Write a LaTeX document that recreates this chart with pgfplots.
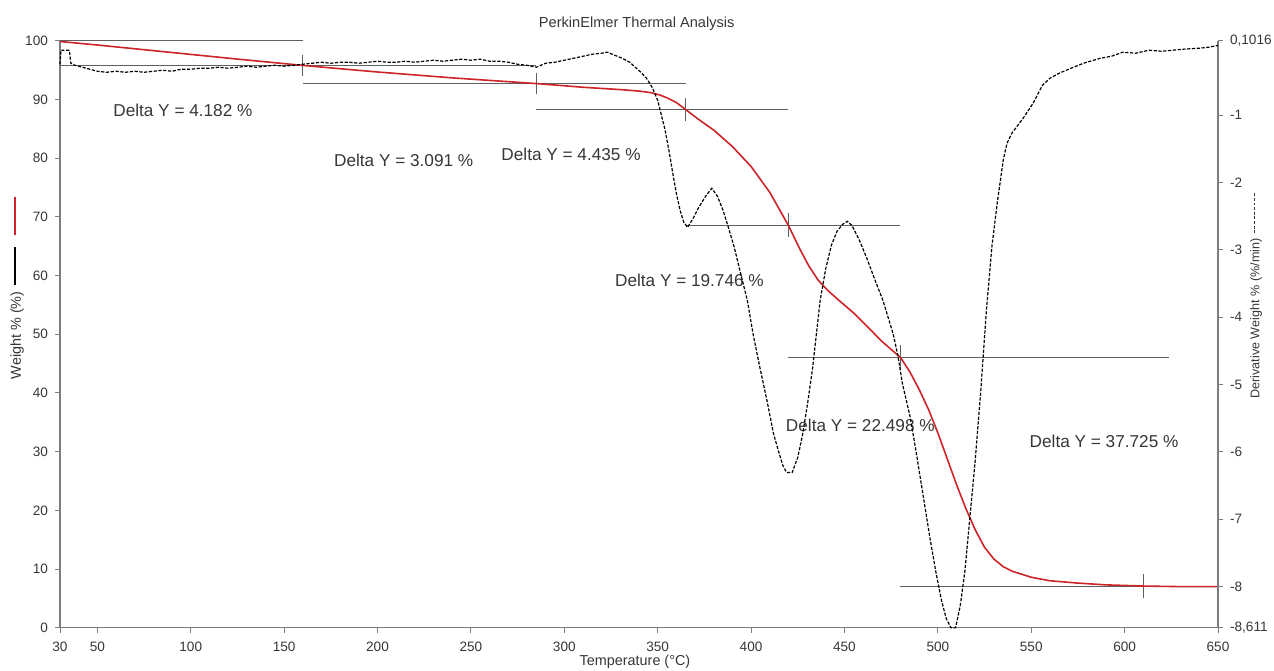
\documentclass[border=0pt]{standalone}
\usepackage{fontspec}
\setmainfont{Liberation Sans}
\usepackage{pgfplots}
\pgfplotsset{compat=1.18}

\definecolor{tgared}{RGB}{204,36,40}
\definecolor{axisgray}{RGB}{125,125,125}
\definecolor{txtgray}{RGB}{55,55,55}
\definecolor{stepgray}{RGB}{95,95,95}

% short dashed rule used as the key of the derivative curve
\newcommand\dashrule[1]{\hbox to #1{\xleaders\hbox{\rule{1.4pt}{0.5pt}\hspace{0.8pt}}\hfill}}
\newcommand\keyrule[2]{\textcolor{#1}{\raisebox{0.32em}{\rule{#2}{0.85pt}}}}

\tikzset{
  stepline/.style={stepgray, line width=0.5pt},
  delta/.style={font=\fontsize{8.6}{10}\selectfont, text=txtgray, anchor=center, inner sep=0pt},
}
\pgfplotsset{
  common/.style={
    scale only axis, width=579pt, height=293.4pt,
    xmin=30, xmax=650, clip=false,
    tick align=outside, major tick length=2.5pt,
    every tick/.style={axisgray, line width=0.5pt},
    axis line style={axisgray, line width=0.55pt},
    tick label style={font=\fontsize{6.8}{8}\selectfont, text=txtgray},
    label style={font=\fontsize{7.2}{8.5}\selectfont, text=txtgray},
    /pgf/number format/assume math mode=true,
  },
}

\begin{document}
\begin{tikzpicture}
\path[use as bounding box] (-30pt,-21.5pt) rectangle (607pt,313.85pt);

% weight loss curve (left axis)
\begin{axis}[common,
  axis y line*=left, axis x line*=bottom,
  ymin=0, ymax=100, ytick={0,10,...,100},
  xtick={30,50,100,150,200,250,300,350,400,450,500,550,600,650},
  xticklabel style={yshift=-1pt},
  xlabel={Temperature (°C)},
  xlabel style={at={(axis description cs:0.4965,-0.0588)}, anchor=center},
  ylabel={Weight \% (\%)\hspace{3.5pt}\keyrule{black}{19pt}\hspace{6pt}\keyrule{tgared}{19pt}},
  ylabel style={at={(axis description cs:-0.0371,0.579)}, anchor=center},
  title={PerkinElmer Thermal Analysis},
  title style={at={(axis description cs:0.498,1.008)}, anchor=center,
    font=\fontsize{7.3}{8.5}\selectfont, text=txtgray},
]
% step baselines
\addplot[stepline] coordinates {(30,100) (160,100)};
\addplot[stepline] coordinates {(30,95.818) (285,95.818)};
\addplot[stepline] coordinates {(160,92.727) (365,92.727)};
\addplot[stepline] coordinates {(285,88.292) (420,88.292)};
\addplot[stepline] coordinates {(365,68.546) (480,68.546)};
\addplot[stepline] coordinates {(420,46.048) (624,46.048)};
\addplot[stepline] coordinates {(480,7.1) (650,7.1)};
% step markers
\addplot[stepline] coordinates {(160,94.0) (160,97.6)};
\addplot[stepline] coordinates {(285,90.9) (285,94.5)};
\addplot[stepline] coordinates {(365,86.4) (365,90.2)};
\addplot[stepline] coordinates {(420,66.5) (420,70.6)};
\addplot[stepline] coordinates {(480,44.0) (480,48.1)};
\addplot[stepline] coordinates {(610,5.0) (610,9.2)};

\addplot[tgared, line width=0.8pt] coordinates {
(30,99.9) (50,99.3) (75,98.5) (100,97.7) (125,96.9) (160,95.82) (200,94.7)
(240,93.7) (285,92.73) (310,92.1) (330,91.7) (340,91.45) (346,91.2) (351,90.8)
(355,90.3) (360,89.5) (365,88.29) (372,86.6) (380,84.8) (390,82.0) (400,78.6)
(410,74.2) (420,68.55) (426,64.6) (431,61.6) (436,59.2) (441,57.5) (447,55.8)
(455,53.6) (462,51.4) (470,48.8) (480,46.05) (485,43.6) (490,40.6) (495,37.2)
(500,33.2) (505,28.8) (510,24.4) (515,20.3) (520,16.7) (525,13.7) (530,11.7)
(535,10.4) (540,9.6) (550,8.6) (560,8.0) (575,7.6) (590,7.3) (610,7.1)
(630,7.0) (650,7.0)};

\node[delta] at (axis cs:95.8,88.2) {Delta Y = 4.182 \%};
\node[delta] at (axis cs:214,79.7) {Delta Y = 3.091 \%};
\node[delta] at (axis cs:303.6,80.7) {Delta Y = 4.435 \%};
\node[delta] at (axis cs:367,59.2) {Delta Y = 19.746 \%};
\node[delta] at (axis cs:458.5,34.5) {Delta Y = 22.498 \%};
\node[delta] at (axis cs:589,31.7) {Delta Y = 37.725 \%};
\end{axis}

% derivative curve (right axis)
\begin{axis}[common,
  axis y line*=right, axis x line=none,
  ymin=-8.611, ymax=0.1016,
  ytick={0.1016,-1,-2,-3,-4,-5,-6,-7,-8,-8.611},
  yticklabels={{0,1016},{-1},{-2},{-3},{-4},{-5},{-6},{-7},{-8},{-8,611}},
  ylabel={Derivative Weight \% (\%/min)\hspace{2.5pt}\raisebox{0.32em}{\dashrule{21pt}}},
  ylabel style={at={(axis description cs:1.0328,0.567)}, anchor=center,
    font=\fontsize{6.3}{7.5}\selectfont},
]
\addplot[black, line width=0.6pt, dash pattern=on 1.6pt off 0.8pt] coordinates {
(30,-0.245) (30.5,-0.037) (35,-0.037) (35.8,-0.230) (38,-0.260) (42,-0.289)
(46,-0.319) (50,-0.349) (55,-0.364) (60,-0.349) (65,-0.364) (70,-0.349)
(75,-0.364) (80,-0.349) (85,-0.334) (90,-0.349) (95,-0.319) (100,-0.319)
(105,-0.304) (110,-0.304) (115,-0.289) (120,-0.304) (125,-0.289) (130,-0.274)
(135,-0.289) (140,-0.274) (145,-0.260) (150,-0.274) (155,-0.260) (160,-0.245)
(165,-0.230) (170,-0.215) (175,-0.230) (180,-0.215) (185,-0.215) (190,-0.230)
(195,-0.215) (200,-0.200) (205,-0.215) (210,-0.215) (215,-0.200) (220,-0.215)
(225,-0.200) (230,-0.185) (235,-0.200) (240,-0.185) (245,-0.170) (250,-0.185)
(255,-0.170) (260,-0.200) (265,-0.200) (270,-0.215) (275,-0.245) (280,-0.260)
(285,-0.289) (290,-0.230) (295,-0.215) (300,-0.185) (305,-0.156) (310,-0.126)
(315,-0.096) (320,-0.081) (323,-0.066) (327,-0.111) (331,-0.156) (335,-0.215)
(338,-0.289) (341,-0.364) (344,-0.453) (347,-0.586) (350,-0.780) (352,-1.003)
(354,-1.226) (356,-1.523) (358,-1.850) (360,-2.162) (362,-2.414) (364,-2.592)
(366,-2.666) (369,-2.532) (372,-2.369) (376,-2.191) (379,-2.087) (382,-2.206)
(385,-2.414) (388,-2.681) (391,-2.963) (394,-3.305) (398,-3.751) (401,-4.241)
(404.7,-4.746) (408.5,-5.237) (412,-5.728) (414.6,-5.980) (417,-6.203)
(419,-6.307) (422,-6.307) (425,-6.084) (427.7,-5.728) (430.5,-5.237)
(433,-4.746) (435,-4.241) (437,-3.751) (440,-3.276) (443,-2.934) (446,-2.726)
(449,-2.622) (451.5,-2.577) (454,-2.637) (458,-2.859) (462,-3.127) (466,-3.424)
(470.6,-3.751) (476,-4.241) (478.6,-4.568) (481,-4.984) (485,-5.460)
(488,-5.936) (490.4,-6.352) (493,-6.798) (496,-7.317) (499,-7.793) (502,-8.209)
(504.5,-8.477) (507,-8.611) (509.5,-8.611) (512,-8.284) (514.5,-7.764)
(517,-7.020) (520,-6.129) (523,-5.089) (526,-3.899) (529,-2.934) (532,-2.266)
(535,-1.671) (537,-1.419) (539.6,-1.270) (542,-1.181) (546,-1.033) (551,-0.824)
(556,-0.557) (560,-0.453) (565,-0.378) (570,-0.319) (578,-0.230) (587,-0.156)
(593,-0.126) (599,-0.066) (606,-0.081) (613,-0.037) (620,-0.052) (631,-0.022)
(640,-0.007) (645,0.008) (650,0.035)};
\end{axis}
\end{tikzpicture}
\end{document}
